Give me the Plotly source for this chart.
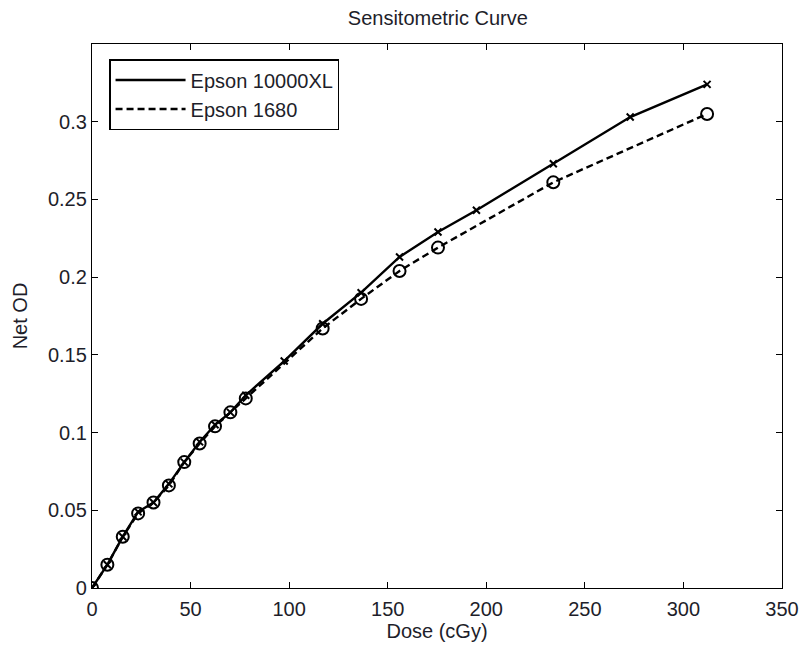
import plotly.graph_objects as go

# Data
dose_10000xl = [0, 7.8, 15.6, 23.4, 31.2, 39, 46.8, 54.6, 62.4, 70.2, 78,
                97.5, 117, 136.5, 156, 175.5, 195, 234, 273, 312]
od_10000xl = [0, 0.015, 0.033, 0.049, 0.055, 0.067, 0.081, 0.094, 0.105, 0.113, 0.124,
              0.146, 0.170, 0.190, 0.213, 0.229, 0.243, 0.273, 0.303, 0.324]

dose_1680 = [0, 7.8, 15.6, 23.4, 31.2, 39, 46.8, 54.6, 62.4, 70.2, 78,
             117, 136.5, 156, 175.5, 234, 312]
od_1680 = [0, 0.015, 0.033, 0.048, 0.055, 0.066, 0.081, 0.093, 0.104, 0.113, 0.122,
           0.167, 0.186, 0.204, 0.219, 0.261, 0.305]

x_ticks = [0, 50, 100, 150, 200, 250, 300, 350]
y_ticks = [0, 0.05, 0.1, 0.15, 0.2, 0.25, 0.3]
y_tick_labels = ["0", "0.05", "0.1", "0.15", "0.2", "0.25", "0.3"]

FONT = "Liberation Sans, Arial, sans-serif"
TXT = "#1e1e2a"

fig = go.Figure()

# Lines (shown in legend)
fig.add_trace(go.Scatter(x=dose_10000xl, y=od_10000xl, mode="lines", name="Epson 10000XL",
                         line=dict(color="black", width=2.4)))
fig.add_trace(go.Scatter(x=dose_1680, y=od_1680, mode="lines", name="Epson 1680",
                         line=dict(color="black", width=2.4, dash="7px,4px")))
# Markers (not in legend)
fig.add_trace(go.Scatter(x=dose_10000xl, y=od_10000xl, mode="markers", showlegend=False,
                         marker=dict(symbol="x-thin", size=7, color="black",
                                     line=dict(color="black", width=2))))
fig.add_trace(go.Scatter(x=dose_1680, y=od_1680, mode="markers", showlegend=False,
                         marker=dict(symbol="circle-open", size=12, color="black",
                                     line=dict(color="black", width=2))))

axis_common = dict(showgrid=False, zeroline=False, showline=True, linecolor="black",
                   linewidth=1.3, mirror="ticks", ticks="inside", ticklen=6,
                   tickcolor="black", tickwidth=1.2, automargin=False,
                   ticklabeloverflow="allow",
                   tickfont=dict(family=FONT, size=20, color=TXT))

fig.update_xaxes(range=[0, 350], tickvals=x_ticks, ticklabelstandoff=3,
                 title=dict(text="Dose (cGy)", font=dict(family=FONT, size=20, color=TXT), standoff=4),
                 **axis_common)
fig.update_yaxes(range=[0, 0.35], tickvals=y_ticks, ticktext=y_tick_labels,
                 title=dict(text="Net OD", font=dict(family=FONT, size=20, color=TXT), standoff=14),
                 **axis_common)

fig.update_layout(
    width=799, height=645,
    margin=dict(l=92, r=17, t=44, b=57),
    paper_bgcolor="white", plot_bgcolor="white",
    title=dict(text="Sensitometric Curve", x=0.548, xanchor="center",
               y=0.972, yanchor="middle", font=dict(family=FONT, size=20, color=TXT)),
    legend=dict(x=0.025, y=0.972, xanchor="left", yanchor="top",
                bordercolor="black", borderwidth=1.3, bgcolor="white",
                font=dict(family=FONT, size=20, color=TXT),
                itemwidth=70, tracegroupgap=0),
    showlegend=True,
)

fig.write_html("out.html", config={"displayModeBar": False},
               post_script="document.body.style.margin='0';document.body.style.overflow='hidden';")
